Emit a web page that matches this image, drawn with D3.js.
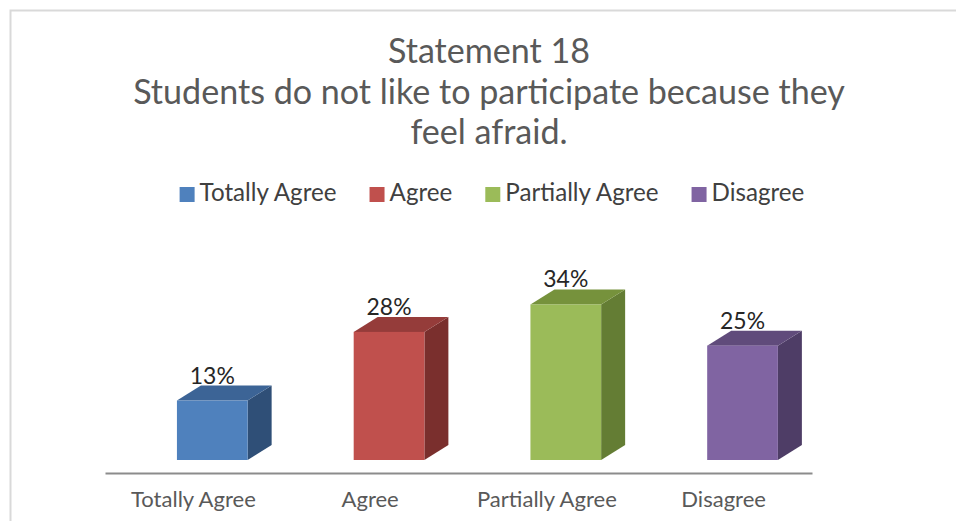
<!DOCTYPE html>
<html>
<head>
<meta charset="utf-8">
<script src="https://cdn.jsdelivr.net/npm/d3@7"></script>
<style>
  html, body { margin: 0; padding: 0; background: #fff; }
  svg { display: block; }
  text { font-family: Lato, "Open Sans", sans-serif; }
</style>
</head>
<body>
<svg id="chart" width="956" height="521"></svg>
<script>
// Survey responses for statement 18
const titleLines = ["Statement 18", "Students do not like to participate because they", "feel afraid."];
const categories = ["Totally Agree", "Agree", "Partially Agree", "Disagree"];
const values = [13, 28, 34, 25];
const valueLabels = ["13%", "28%", "34%", "25%"];

// Front / top / side shades for each column
const frontColors = ["#4F81BD", "#C0504D", "#9BBB59", "#8064A2"];
const topColors   = ["#3C6496", "#953C3A", "#76923C", "#604B7B"];
const sideColors  = ["#2F4F77", "#7A2F2D", "#647D34", "#4E3D66"];

const svg = d3.select("#chart");

// Fit a text element to a target width by scaling its font size
function fitWidth(sel, target, start) {
  sel.attr("font-size", start);
  const w = sel.node().getComputedTextLength();
  sel.attr("font-size", start * target / w);
  return sel;
}

// Chart frame
svg.append("path")
  .attr("d", "M10.5,521 V10.5 H956")
  .attr("fill", "none")
  .attr("stroke", "#d9d9d9")
  .attr("stroke-width", 2);

// Title
const titleY = [63, 104, 144];
const titleLine2 = svg.append("text")
  .attr("x", 489).attr("y", titleY[1])
  .attr("text-anchor", "middle").attr("fill", "#595959")
  .text(titleLines[1]);
fitWidth(titleLine2, 712, 28);
const titleSize = +titleLine2.attr("font-size");
[0, 2].forEach(i => {
  svg.append("text")
    .attr("x", 489).attr("y", titleY[i])
    .attr("text-anchor", "middle").attr("fill", "#595959")
    .attr("font-size", titleSize)
    .text(titleLines[i]);
});

// Scales
const x = d3.scaleBand().domain(categories).range([105, 812]);
const y = d3.scaleLinear().domain([0, 40]).range([460, 277]);
const floorY = 460;
const depthX = 24, depthY = 15;
const frontW = x.bandwidth() * 0.40;
const frontX = c => x(c) + x.bandwidth() * 0.407;

// Legend
const legend = svg.append("g").attr("class", "legend");
const legendItems = [];
categories.forEach((c, i) => {
  const g = legend.append("g");
  g.append("rect").attr("x", 0).attr("y", -14).attr("width", 15).attr("height", 15)
    .attr("fill", frontColors[i]);
  const t = g.append("text").attr("x", 20).attr("y", 0)
    .attr("fill", "#404040").text(c);
  legendItems.push({ g, t });
});
fitWidth(legendItems[0].t, 137, 20);
const legendSize = +legendItems[0].t.attr("font-size");
let lx = 0;
legendItems.forEach(({ g, t }) => {
  t.attr("font-size", legendSize);
  g.attr("transform", `translate(${lx},0)`);
  lx += 20 + t.node().getComputedTextLength() + 33;
});
const legendW = lx - 33;
legend.attr("transform", `translate(${492 - legendW / 2},201)`);

// Axis along the floor
const axisG = svg.append("g")
  .attr("transform", "translate(0,473)")
  .call(d3.axisBottom(x).tickSize(0).tickPadding(18));
axisG.select(".domain").attr("stroke", "#8c8c8c").attr("stroke-width", 2);
axisG.selectAll(".tick text")
  .attr("fill", "#595959")
  .attr("font-family", "Lato, 'Open Sans', sans-serif");
const firstTick = axisG.select(".tick text");
fitWidth(firstTick, 125, 18);
axisG.selectAll(".tick text").attr("font-size", firstTick.attr("font-size")).attr("dy", "0.71em");

// 3D columns
const bars = svg.append("g").selectAll("g.bar")
  .data(categories.map((c, i) => ({ c, v: values[i], i })))
  .join("g").attr("class", "bar");

bars.append("path") // side face
  .attr("fill", d => sideColors[d.i])
  .attr("d", d => {
    const x1 = frontX(d.c) + frontW, yt = y(d.v);
    return `M${x1},${floorY} L${x1 + depthX},${floorY - depthY} L${x1 + depthX},${yt - depthY} L${x1},${yt} Z`;
  });
bars.append("path") // top face
  .attr("fill", d => topColors[d.i])
  .attr("d", d => {
    const x0 = frontX(d.c), x1 = x0 + frontW, yt = y(d.v);
    return `M${x0},${yt} L${x0 + depthX},${yt - depthY} L${x1 + depthX},${yt - depthY} L${x1},${yt} Z`;
  });
bars.append("rect") // front face
  .attr("fill", d => frontColors[d.i])
  .attr("x", d => frontX(d.c))
  .attr("y", d => y(d.v))
  .attr("width", frontW)
  .attr("height", d => floorY - y(d.v));

// Value labels
const vLabels = bars.append("text")
  .attr("x", d => frontX(d.c) + frontW / 2)
  .attr("y", d => y(d.v) - depthY - 2)
  .attr("text-anchor", "middle")
  .attr("fill", "#262626")
  .text(d => valueLabels[d.i]);
fitWidth(d3.select(vLabels.nodes()[0]), 45, 20);
vLabels.attr("font-size", d3.select(vLabels.nodes()[0]).attr("font-size"));
</script>
</body>
</html>
